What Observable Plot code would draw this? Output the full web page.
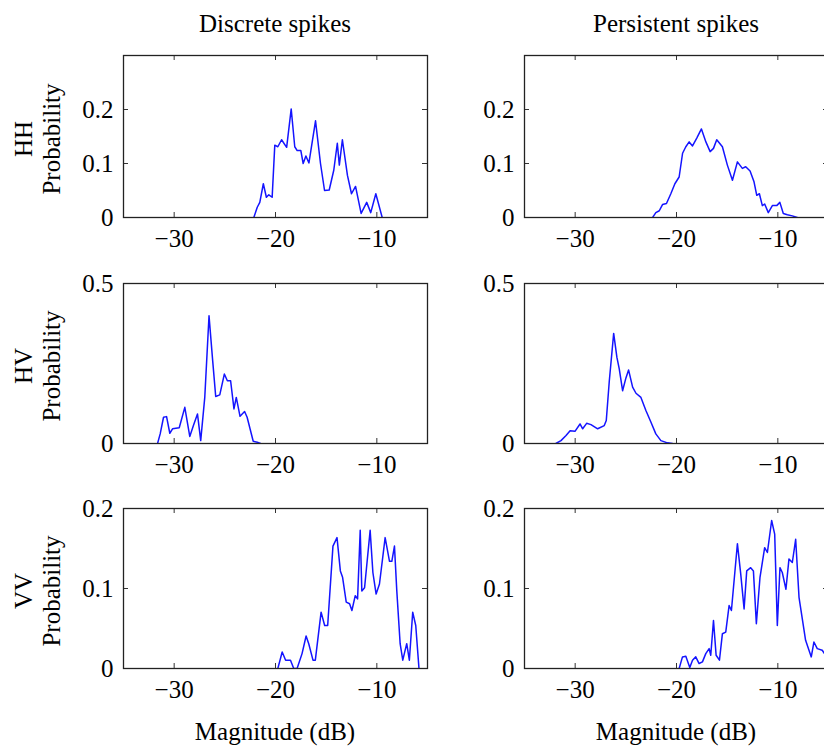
<!DOCTYPE html>
<html>
<head>
<meta charset="utf-8">
<script src="https://cdn.jsdelivr.net/npm/d3@7"></script>
<script src="https://cdn.jsdelivr.net/npm/@observablehq/plot@0.6"></script>
<style>
  html, body { margin: 0; padding: 0; background: #fff; }
  #root { position: relative; width: 824px; height: 749px; overflow: hidden; font-family: "Liberation Serif", "DejaVu Serif", serif; }
  .panel { position: absolute; }
  .panel svg { max-width: none !important; display: block; }
  .lbl { position: absolute; transform: translate(-50%, -50%); white-space: nowrap; font-size: 25px; line-height: 1; color: #000; font-family: "Liberation Serif", "DejaVu Serif", serif; }
  .rowlbl { position: absolute; transform: translate(-50%, -50%) rotate(-90deg); white-space: nowrap; font-size: 25px; line-height: 28px; text-align: center; color: #000; font-family: "Liberation Serif", "DejaVu Serif", serif; }
</style>
</head>
<body>
<div id="root"></div>
<script>
// ---- data ----
const colTitles = ["Discrete spikes", "Persistent spikes"];
const rowLabels = ["HH", "HV", "VV"];
const xLabel = "Magnitude (dB)";
const yLabel = "Probability";
const xTicks = [-30, -20, -10];
const xDomain = [-35, -5];
const yTicksHH = [0, 0.1, 0.2];
const yTicksHV = [0, 0.5];
const yTicksVV = [0, 0.1, 0.2];
const yDomainHH = [0, 0.3];
const yDomainHV = [0, 0.5];
const yDomainVV = [0, 0.2];

const hhDiscreteX = [-22.14,-21.8,-21.55,-21.2,-20.9,-20.66,-20.33,-20.07,-19.77,-19.4,-18.9,-18.45,-18.1,-17.86,-17.5,-17.27,-17.0,-16.7,-16.05,-15.56,-15.16,-14.7,-14.25,-13.9,-13.7,-13.4,-12.9,-12.5,-12.1,-11.55,-11.0,-10.6,-10.1,-9.47];
const hhDiscreteY = [0,0.019,0.028,0.0625,0.0375,0.042,0.0375,0.134,0.131,0.144,0.13,0.201,0.131,0.124,0.124,0.1,0.114,0.101,0.179,0.1,0.05,0.051,0.0875,0.1375,0.097,0.144,0.078,0.044,0.0575,0.0075,0.028,0.009,0.044,0];

const hhPersistX = [-22.36,-22.04,-21.7,-21.38,-20.99,-20.56,-20.16,-19.74,-19.4,-19.08,-18.75,-18.42,-18.0,-17.54,-17.1,-16.68,-16.35,-16.03,-15.47,-14.98,-14.48,-13.99,-13.5,-13.17,-12.74,-12.35,-12.08,-11.82,-11.53,-11.3,-10.94,-10.54,-10.11,-9.8,-9.46,-9.06,-8.57,-8.08];
const hhPersistY = [0,0.009,0.0125,0.024,0.026,0.044,0.0625,0.075,0.119,0.131,0.14,0.1325,0.147,0.164,0.14,0.122,0.128,0.144,0.131,0.097,0.069,0.103,0.091,0.094,0.086,0.066,0.041,0.044,0.022,0.025,0.009,0.022,0.022,0.028,0.0075,0.005,0.003,0];

const hvDiscreteX = [-31.64,-31.38,-31.05,-30.75,-30.43,-30.16,-29.5,-28.95,-28.46,-28.1,-27.7,-27.38,-26.98,-26.56,-26.2,-25.9,-25.5,-25.05,-24.75,-24.43,-24.1,-23.87,-23.5,-23.05,-22.8,-22.2,-21.8,-21.48];
const hvDiscreteY = [0,0.03,0.082,0.084,0.032,0.046,0.049,0.113,0.022,0.056,0.0925,0.009,0.144,0.399,0.259,0.147,0.152,0.217,0.196,0.196,0.108,0.144,0.085,0.1,0.082,0.007,0.004,0];

const hvPersistX = [-31.9,-31.4,-30.9,-30.5,-30.02,-29.52,-29.26,-28.87,-28.44,-27.78,-27.13,-26.93,-26.63,-26.2,-25.88,-25.65,-25.32,-24.99,-24.73,-24.33,-24.0,-23.51,-23.02,-22.53,-22.04,-21.54,-20.89,-20.4];
const hvPersistY = [0,0.009,0.025,0.04,0.038,0.061,0.046,0.063,0.059,0.046,0.056,0.072,0.196,0.344,0.269,0.233,0.165,0.205,0.23,0.176,0.157,0.144,0.103,0.067,0.03,0.009,0.002,0];

const vvDiscreteX = [-19.77,-19.34,-19.0,-18.52,-18.2,-17.87,-17.38,-16.98,-16.72,-16.3,-16.07,-15.5,-15.15,-14.85,-14.33,-13.93,-13.6,-13.38,-13.02,-12.69,-12.46,-12.13,-11.9,-11.64,-11.48,-11.21,-10.66,-10.39,-10.07,-9.74,-9.18,-8.75,-8.52,-8.26,-8.03,-7.7,-7.44,-7.05,-6.79,-6.46,-6.16,-5.84];
const vvDiscreteY = [0,0.0207,0.0104,0.0104,0,0,0.0186,0.0406,0.031,0.0104,0.0104,0.0704,0.0538,0.0538,0.153,0.1636,0.122,0.114,0.083,0.081,0.0725,0.091,0.087,0.1727,0.097,0.101,0.1727,0.12,0.093,0.1056,0.1636,0.134,0.134,0.153,0.097,0.031,0.0104,0.031,0.0104,0.0704,0.0538,0];

const vvPersistX = [-19.74,-19.41,-19.08,-18.69,-18.42,-18.1,-17.77,-17.44,-17.11,-16.78,-16.62,-16.35,-16.09,-15.76,-15.47,-15.14,-14.81,-14.58,-13.99,-13.66,-13.33,-13.07,-12.68,-12.41,-12.12,-11.76,-11.3,-11.03,-10.61,-10.31,-10.05,-9.79,-9.56,-9.2,-8.9,-8.57,-8.24,-7.91,-7.26,-6.7,-6.44,-6.11,-5.62,-5.3];
const vvPersistY = [0,0.0145,0.0153,0.0012,0.0104,0.0145,0.0062,0.0083,0.0186,0.0248,0.0166,0.06,0.0166,0.0104,0.0435,0.0455,0.0787,0.0725,0.156,0.118,0.0745,0.122,0.126,0.122,0.0559,0.114,0.151,0.145,0.185,0.168,0.0538,0.126,0.12,0.099,0.137,0.1325,0.1615,0.089,0.0352,0.0145,0.0331,0.0248,0.0228,0.0166];

// ---- layout ----
const root = document.getElementById("root");
const colFrameLeft = [123, 524];
const frameW = 304;
const rows = [
  {top: 55,  h: 162, domain: yDomainHH, ticks: yTicksHH, series: [[hhDiscreteX, hhDiscreteY], [hhPersistX, hhPersistY]]},
  {top: 283, h: 160, domain: yDomainHV, ticks: yTicksHV, series: [[hvDiscreteX, hvDiscreteY], [hvPersistX, hvPersistY]]},
  {top: 508, h: 160, domain: yDomainVV, ticks: yTicksVV, series: [[vvDiscreteX, vvDiscreteY], [vvPersistX, vvPersistY]]}
];
const mL = 64, mR = 4, mT = 4, mB = 44;
const fmtX = d => d < 0 ? "\u2212" + Math.abs(d) : String(d);
const fmtY = d => d === 0 ? "0" : String(d);
const font = "Liberation Serif, DejaVu Serif, serif";

rows.forEach((row, ri) => {
  row.series.forEach(([xs, ys], ci) => {
    const data = xs.map((x, i) => ({x, y: ys[i]}));
    const W = mL + frameW + mR, H = mT + row.h + mB;
    const chart = Plot.plot({
      width: W,
      height: H,
      marginLeft: mL, marginRight: mR, marginTop: mT, marginBottom: mB,
      style: {fontFamily: font, fontSize: "25px", background: "transparent", overflow: "visible", maxWidth: "none"},
      x: {domain: xDomain, ticks: xTicks, tickFormat: fmtX, tickSize: 0, tickPadding: 12, label: null},
      y: {domain: row.domain, ticks: row.ticks, tickFormat: fmtY, tickSize: 0, tickPadding: 10, label: null},
      marks: [
        Plot.line(data, {x: "x", y: "y", stroke: "#1414ff", strokeWidth: 1.5, clip: true}),
        Plot.tickX(xTicks, {x: d => d, stroke: "#333", insetTop: row.h - 5}),
        Plot.tickX(xTicks, {x: d => d, stroke: "#333", insetBottom: row.h - 5}),
        Plot.tickY(row.ticks, {y: d => d, stroke: "#333", insetRight: frameW - 5}),
        Plot.tickY(row.ticks, {y: d => d, stroke: "#333", insetLeft: frameW - 5}),
        Plot.frame({stroke: "#222", strokeWidth: 1.3})
      ]
    });
    chart.setAttribute("font-family", font);
    chart.querySelectorAll("text").forEach(t => t.setAttribute("font-family", font));
    const div = document.createElement("div");
    div.className = "panel";
    div.style.left = (colFrameLeft[ci] - mL) + "px";
    div.style.top = (row.top - mT) + "px";
    div.style.width = W + "px";
    div.style.height = H + "px";
    div.appendChild(chart);
    root.appendChild(div);
  });
  const rl = document.createElement("div");
  rl.className = "rowlbl";
  rl.style.left = "38px";
  rl.style.top = (row.top + row.h / 2 + 3) + "px";
  rl.innerHTML = rowLabels[ri] + "<br>" + yLabel;
  root.appendChild(rl);
});

colTitles.forEach((t, ci) => {
  const d = document.createElement("div");
  d.className = "lbl";
  d.style.left = (colFrameLeft[ci] + frameW / 2) + "px";
  d.style.top = "23px";
  d.textContent = t;
  root.appendChild(d);
  const x = document.createElement("div");
  x.className = "lbl";
  x.style.left = (colFrameLeft[ci] + frameW / 2) + "px";
  x.style.top = "731px";
  x.textContent = xLabel;
  root.appendChild(x);
});
</script>
</body>
</html>
